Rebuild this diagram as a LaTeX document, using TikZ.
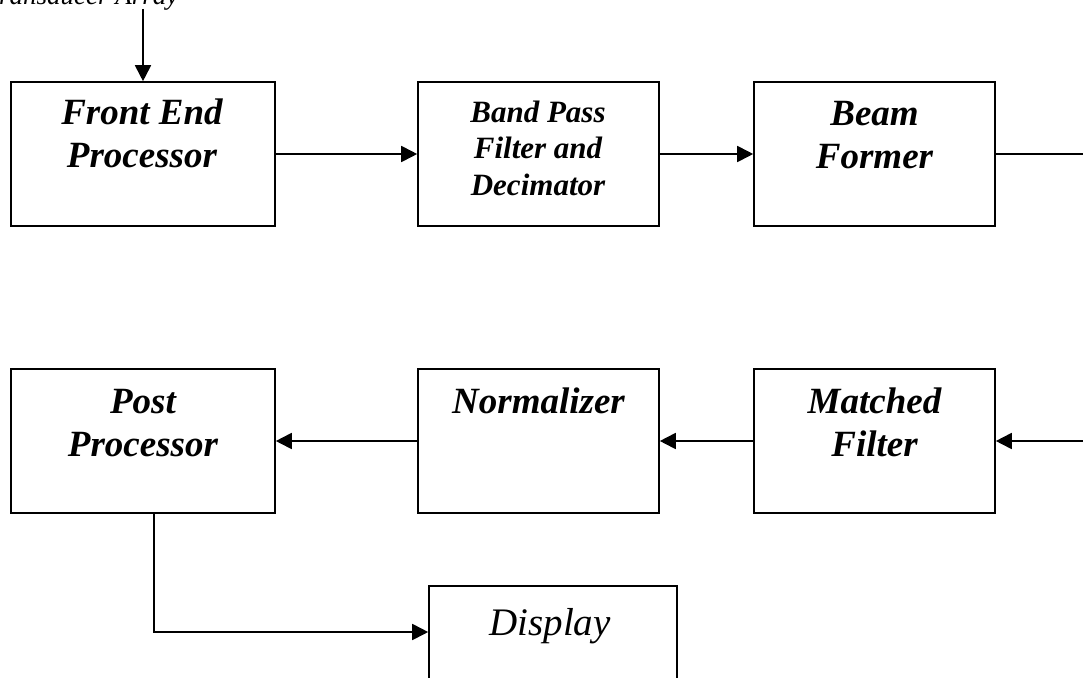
\documentclass[tikz,border=0pt]{standalone}
\usepackage{fontspec}
\setmainfont{Liberation Serif}
\usetikzlibrary{arrows.meta}
\begin{document}
\begin{tikzpicture}[x=1pt, y=-1pt,
  block/.style={draw, line width=1.6pt, inner sep=0pt, minimum height=144pt},
  lbl/.style={inner sep=0pt, align=center, anchor=base},
  big/.style={font=\fontsize{37}{42.5}\selectfont\bfseries\itshape},
  small/.style={font=\fontsize{31}{36.5}\selectfont\bfseries\itshape},
  flow/.style={line width=1.8pt, -{Triangle[length=16pt,width=16pt]}}]
\useasboundingbox (0,0) rectangle (1083,677);

% processing blocks
\node[block, minimum width=264pt] (fep) at (143,154) {};
\node[block, minimum width=241pt] (bpf) at (538.5,154) {};
\node[block, minimum width=241pt] (bf)  at (874.5,154) {};
\node[block, minimum width=264pt] (pp)  at (143,441) {};
\node[block, minimum width=241pt] (nrm) at (538.5,441) {};
\node[block, minimum width=241pt] (mf)  at (874.5,441) {};
\node[block, minimum width=248pt] (dsp) at (553,658) {};

% block labels (anchored at the baseline of their last line)
\node[lbl, big]   (fept) at (142,167)   {Front End\\Processor};
\node[lbl, small] (bpft) at (538,195)   {Band Pass\\Filter and\\Decimator};
\node[lbl, big]   (bft)  at (874.5,168) {Beam\\Former};
\node[lbl, big]   (ppt)  at (143,456)   {Post\\Processor};
\node[lbl, big]   (nrmt) at (538.5,413) {Normalizer};
\node[lbl, big]   (mft)  at (874.5,456) {Matched\\Filter};
\node[lbl, font=\fontsize{39}{44}\selectfont\itshape] (dspt) at (550,635) {Display};

% input
\node[lbl, font=\fontsize{27}{32}\selectfont\itshape] (src) at (82,5) {Transducer Array};
\coordinate (in) at (143,9);
\draw[flow] (in) -- (fep.north);

% signal chain
\draw[flow] (fep) -- (bpf);
\draw[flow] (bpf) -- (bf);
\coordinate (rt) at (1110,154);
\coordinate (rb) at (1110,441);
\draw[flow] (bf.east) -- (rt) -- (rb) -- (mf.east);
\draw[flow] (mf) -- (nrm);
\draw[flow] (nrm) -- (pp);
\draw[flow] ([xshift=11pt]pp.south) |- ([yshift=26pt]dsp.west);
\end{tikzpicture}
\end{document}
